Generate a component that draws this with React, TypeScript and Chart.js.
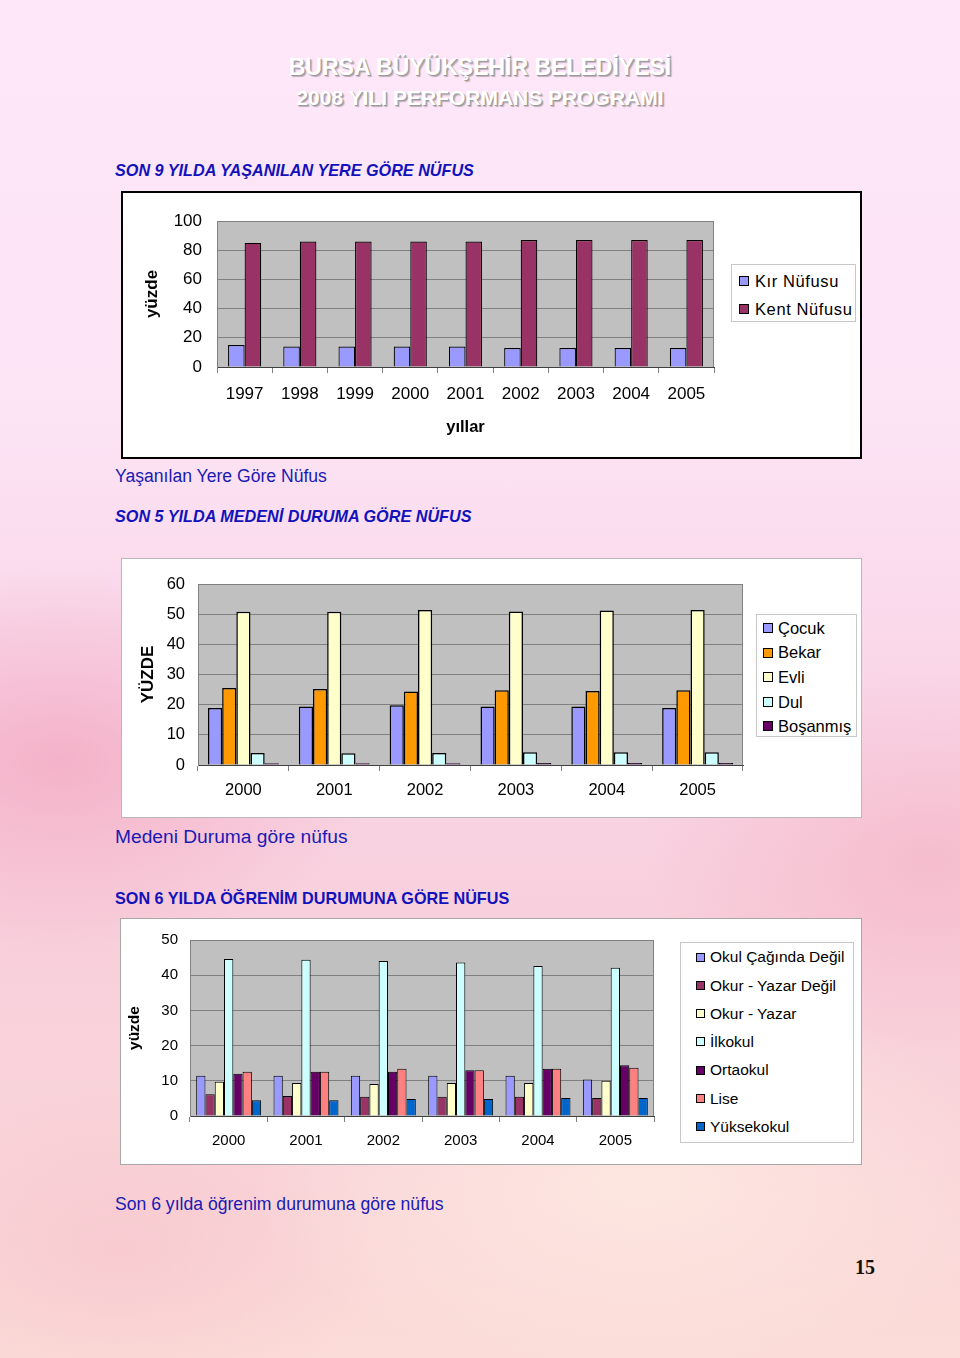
import React, { useEffect, useRef } from 'react';
import { Chart, registerables } from 'chart.js';

Chart.register(...registerables);

const FONT = "'Liberation Sans', Arial, Helvetica, sans-serif";

// ---- Chart 1: Son 9 yılda yaşanılan yere göre nüfus ----
const years1 = ['1997', '1998', '1999', '2000', '2001', '2002', '2003', '2004', '2005'];
const kirNufusu = [15, 14, 14, 14, 14, 13, 13, 13, 13];
const kentNufusu = [85, 86, 86, 86, 86, 87, 87, 87, 87];
const series1Labels = ['Kır Nüfusu', 'Kent Nüfusu'];
const series1Colors = ['#9999FF', '#993366'];

// ---- Chart 2: Son 5 yılda medeni duruma göre nüfus ----
const years2 = ['2000', '2001', '2002', '2003', '2004', '2005'];
const cocuk = [18.9, 19.4, 19.8, 19.4, 19.4, 18.9];
const bekar = [25.5, 25.2, 24.4, 24.8, 24.5, 24.8];
const evli = [50.8, 50.8, 51.4, 50.9, 51.2, 51.4];
const dul = [4.0, 3.9, 4.0, 4.2, 4.2, 4.2];
const bosanmis = [0.6, 0.6, 0.6, 0.7, 0.7, 0.7];
const series2Labels = ['Çocuk', 'Bekar', 'Evli', 'Dul', 'Boşanmış'];
const series2Colors = ['#9999FF', '#FF9900', '#FFFFCC', '#CCFFFF', '#660066'];

// ---- Chart 3: Son 6 yılda öğrenim durumuna göre nüfus ----
const years3 = ['2000', '2001', '2002', '2003', '2004', '2005'];
const okulCagindaDegil = [11.4, 11.4, 11.4, 11.4, 11.4, 10.4];
const okurYazarDegil = [6.2, 5.7, 5.5, 5.5, 5.5, 5.1];
const okurYazar = [9.7, 9.4, 9.1, 9.4, 9.4, 10.0];
const ilkokul = [44.6, 44.4, 44.0, 43.6, 42.6, 42.1];
const ortaokul = [12.0, 12.6, 12.6, 13.0, 13.4, 14.4];
const lise = [12.6, 12.6, 13.4, 13.0, 13.4, 13.7];
const yuksekokul = [4.5, 4.5, 4.8, 4.8, 5.1, 5.1];
const series3Labels = ['Okul Çağında Değil', 'Okur - Yazar Değil', 'Okur - Yazar', 'İlkokul', 'Ortaokul', 'Lise', 'Yüksekokul'];
const series3Colors = ['#9999FF', '#993366', '#FFFFCC', '#CCFFFF', '#660066', '#FF8080', '#0066CC'];

const plotAreaPlugin = {
  id: 'plotArea',
  beforeDraw(chart: any) {
    const { ctx, chartArea: a } = chart;
    ctx.save();
    ctx.fillStyle = '#c0c0c0';
    ctx.fillRect(a.left, a.top, a.right - a.left, a.bottom - a.top);
    ctx.restore();
  },
  beforeDatasetsDraw(chart: any) {
    const { ctx, chartArea: a } = chart;
    ctx.save();
    ctx.strokeStyle = '#808080';
    ctx.lineWidth = 1;
    ctx.beginPath();
    ctx.moveTo(a.left, a.top + 0.5);
    ctx.lineTo(a.right - 0.5, a.top + 0.5);
    ctx.lineTo(a.right - 0.5, a.bottom);
    ctx.stroke();
    ctx.restore();
  },
};

type DS = { label: string; data: number[]; color: string };
type Cfg = {
  width: number;
  height: number;
  labels: string[];
  datasets: DS[];
  yMax: number;
  yStep: number;
  padTop: number;
  padRight: number;
  yWidth: number;
  xHeight: number;
  yTickPad: number;
  xTickPad: number;
  tickFont: number;
  yTitle: string;
  yTitleFont: number;
  yTitlePad: number;
  xTitle?: string;
  xTitleFont?: number;
  xTitlePad?: number;
  catPct: number;
  borderWidth: number;
};

function BarChart({ cfg }: { cfg: Cfg }) {
  const ref = useRef<HTMLCanvasElement | null>(null);
  useEffect(() => {
    if (!ref.current) return;
    const chart = new Chart(ref.current, {
      type: 'bar',
      data: {
        labels: cfg.labels,
        datasets: cfg.datasets.map((d) => ({
          label: d.label,
          data: d.data,
          backgroundColor: d.color,
          borderColor: '#000',
          borderWidth: cfg.borderWidth,
          categoryPercentage: cfg.catPct,
          barPercentage: 1,
        })),
      },
      options: {
        responsive: false,
        animation: false,
        devicePixelRatio: 1,
        layout: { padding: { top: cfg.padTop, right: cfg.padRight, bottom: 0, left: 0 } },
        plugins: { legend: { display: false }, tooltip: { enabled: false } },
        scales: {
          x: {
            grid: { offset: true, drawOnChartArea: false, drawTicks: true, tickLength: 6, color: '#808080' },
            border: { color: '#404040' },
            ticks: {
              color: '#000',
              font: { family: FONT, size: cfg.tickFont },
              padding: cfg.xTickPad,
              maxRotation: 0,
              autoSkip: false,
            },
            title: cfg.xTitle
              ? {
                  display: true,
                  text: cfg.xTitle,
                  color: '#000',
                  font: { family: FONT, size: cfg.xTitleFont, weight: 'bold' },
                  padding: { top: 0, bottom: cfg.xTitlePad },
                }
              : { display: false },
            afterFit: (s: any) => {
              s.height = cfg.xHeight;
            },
          },
          y: {
            min: 0,
            max: cfg.yMax,
            ticks: {
              stepSize: cfg.yStep,
              color: '#000',
              font: { family: FONT, size: cfg.tickFont },
              padding: cfg.yTickPad,
            },
            grid: { color: '#808080', drawTicks: false },
            border: { color: '#808080' },
            title: {
              display: true,
              text: cfg.yTitle,
              color: '#000',
              font: { family: FONT, size: cfg.yTitleFont, weight: 'bold' },
              padding: { top: cfg.yTitlePad, bottom: 0 },
            },
            afterFit: (s: any) => {
              s.width = cfg.yWidth;
            },
          },
        },
      } as any,
      plugins: [plotAreaPlugin],
    });
    return () => chart.destroy();
  }, []);
  return (
    <canvas
      ref={ref}
      width={cfg.width}
      height={cfg.height}
      style={{ position: 'absolute', left: 0, top: 0, width: cfg.width, height: cfg.height }}
    />
  );
}

type LegendProps = {
  labels: string[];
  colors: string[];
  left: number;
  top: number;
  width: number;
  height: number;
  firstRow: number;
  rowStep: number;
  markerLeft: number;
  marker: number;
  textLeft: number;
  font: number;
  spacing?: number;
};

function Legend(p: LegendProps) {
  return (
    <div
      style={{
        position: 'absolute',
        left: p.left,
        top: p.top,
        width: p.width,
        height: p.height,
        boxSizing: 'border-box',
        border: '1px solid #c8c8c8',
        background: '#fff',
      }}
    >
      {p.labels.map((l, i) => {
        const cy = p.firstRow + i * p.rowStep;
        return (
          <React.Fragment key={l}>
            <div
              style={{
                position: 'absolute',
                left: p.markerLeft,
                top: cy - p.marker / 2,
                width: p.marker,
                height: p.marker,
                boxSizing: 'border-box',
                border: '1px solid #000',
                background: p.colors[i],
              }}
            />
            <div
              style={{
                position: 'absolute',
                left: p.textLeft,
                top: cy - 0.5 * p.font,
                fontFamily: FONT,
                fontSize: p.font,
                lineHeight: p.font + 'px',
                whiteSpace: 'nowrap',
                letterSpacing: p.spacing || 0,
                color: '#000',
              }}
            >
              {l}
            </div>
          </React.Fragment>
        );
      })}
    </div>
  );
}

function Text({
  text,
  x,
  cy,
  size,
  bold,
  italic,
  color,
  family,
}: {
  text: string;
  x: number;
  cy: number;
  size: number;
  bold?: boolean;
  italic?: boolean;
  color?: string;
  family?: string;
}) {
  return (
    <div
      style={{
        position: 'absolute',
        left: x,
        top: cy - 0.49 * size,
        fontFamily: family || FONT,
        fontSize: size,
        lineHeight: size + 'px',
        fontWeight: bold ? 'bold' : 'normal',
        fontStyle: italic ? 'italic' : 'normal',
        color: color || '#1a1ab4',
        whiteSpace: 'nowrap',
      }}
    >
      {text}
    </div>
  );
}

const chart1: Cfg = {
  width: 737,
  height: 264,
  labels: years1,
  datasets: [
    { label: series1Labels[0], data: kirNufusu, color: series1Colors[0] },
    { label: series1Labels[1], data: kentNufusu, color: series1Colors[1] },
  ],
  yMax: 100,
  yStep: 20,
  padTop: 28,
  padRight: 146,
  yWidth: 94,
  xHeight: 90,
  yTickPad: 15,
  xTickPad: 11,
  tickFont: 17,
  yTitle: 'yüzde',
  yTitleFont: 17,
  yTitlePad: 19,
  xTitle: 'yıllar',
  xTitleFont: 16.5,
  xTitlePad: 20,
  catPct: 0.6,
  borderWidth: 1.2,
};

const chart2: Cfg = {
  width: 739,
  height: 258,
  labels: years2,
  datasets: [
    { label: series2Labels[0], data: cocuk, color: series2Colors[0] },
    { label: series2Labels[1], data: bekar, color: series2Colors[1] },
    { label: series2Labels[2], data: evli, color: series2Colors[2] },
    { label: series2Labels[3], data: dul, color: series2Colors[3] },
    { label: series2Labels[4], data: bosanmis, color: series2Colors[4] },
  ],
  yMax: 60,
  yStep: 10,
  padTop: 25,
  padRight: 118,
  yWidth: 76,
  xHeight: 52,
  yTickPad: 13,
  xTickPad: 10,
  tickFont: 16.5,
  yTitle: 'YÜZDE',
  yTitleFont: 17,
  yTitlePad: 16,
  catPct: 0.78,
  borderWidth: 1.5,
};

const chart3: Cfg = {
  width: 740,
  height: 245,
  labels: years3,
  datasets: [
    { label: series3Labels[0], data: okulCagindaDegil, color: series3Colors[0] },
    { label: series3Labels[1], data: okurYazarDegil, color: series3Colors[1] },
    { label: series3Labels[2], data: okurYazar, color: series3Colors[2] },
    { label: series3Labels[3], data: ilkokul, color: series3Colors[3] },
    { label: series3Labels[4], data: ortaokul, color: series3Colors[4] },
    { label: series3Labels[5], data: lise, color: series3Colors[5] },
    { label: series3Labels[6], data: yuksekokul, color: series3Colors[6] },
  ],
  yMax: 50,
  yStep: 10,
  padTop: 15,
  padRight: 207,
  yWidth: 69,
  xHeight: 48,
  yTickPad: 12,
  xTickPad: 10,
  tickFont: 15,
  yTitle: 'yüzde',
  yTitleFont: 15.5,
  yTitlePad: 4,
  catPct: 0.84,
  borderWidth: 1,
};

const pageBg = [
  'radial-gradient(ellipse 420px 260px at 60px 760px, rgba(240,150,178,0.55), rgba(240,150,178,0) 75%)',
  'radial-gradient(ellipse 380px 260px at 930px 860px, rgba(242,165,185,0.45), rgba(242,165,185,0) 75%)',
  'radial-gradient(ellipse 520px 260px at 640px 1180px, rgba(255,238,228,0.7), rgba(255,238,228,0) 75%)',
  'radial-gradient(ellipse 360px 220px at 120px 1250px, rgba(246,190,200,0.5), rgba(246,190,200,0) 75%)',
  'linear-gradient(to bottom, #fde7f8 0%, #fce4f5 30%, #f9d6e8 50%, #f8cfdc 68%, #f9d4d9 85%, #fbdcd8 100%)',
].join(', ');

export default function App() {
  return (
    <div
      style={{
        position: 'absolute',
        left: 0,
        top: 0,
        width: 960,
        height: 1358,
        overflow: 'hidden',
        background: pageBg,
      }}
    >
      {/* Header */}
      <div
        style={{
          position: 'absolute',
          left: 0,
          width: 960,
          top: 56,
          textAlign: 'center',
          fontFamily: FONT,
          fontWeight: 'bold',
          fontSize: 23,
          lineHeight: '23px',
          color: '#ffffff',
          textShadow: '1px 1px 0 #9a9a9a, 2px 2px 1px rgba(0,0,0,0.25)',
          whiteSpace: 'nowrap',
        }}
      >
        BURSA BÜYÜKŞEHİR BELEDİYESİ
      </div>
      <div
        style={{
          position: 'absolute',
          left: 0,
          width: 960,
          top: 87,
          textAlign: 'center',
          fontFamily: FONT,
          fontWeight: 'bold',
          fontSize: 21,
          lineHeight: '21px',
          color: '#ffffff',
          textShadow: '1px 1px 0 #9a9a9a, 2px 2px 1px rgba(0,0,0,0.25)',
          whiteSpace: 'nowrap',
        }}
      >
        2008 YILI PERFORMANS PROGRAMI
      </div>

      <Text text="SON 9 YILDA YAŞANILAN YERE GÖRE NÜFUS" x={115} cy={170} size={16.2} bold italic color="#1212bc" />

      {/* Chart 1 box */}
      <div
        style={{
          position: 'absolute',
          left: 121,
          top: 191,
          width: 741,
          height: 268,
          boxSizing: 'border-box',
          border: '2px solid #000',
          background: '#fff',
        }}
      >
        <BarChart cfg={chart1} />
      </div>
      <Legend
        labels={series1Labels}
        colors={series1Colors}
        left={731}
        top={264}
        width={125}
        height={58}
        firstRow={16}
        rowStep={28}
        markerLeft={7}
        marker={10}
        textLeft={23}
        font={16.5}
        spacing={0.6}
      />

      <Text text="Yaşanılan Yere Göre Nüfus" x={115} cy={477} size={17.6} color="#1a1ab4" />
      <Text text="SON 5 YILDA MEDENİ DURUMA GÖRE NÜFUS" x={115} cy={516} size={16.2} bold italic color="#1212bc" />

      {/* Chart 2 box */}
      <div
        style={{
          position: 'absolute',
          left: 121,
          top: 558,
          width: 741,
          height: 260,
          boxSizing: 'border-box',
          border: '1px solid #b8b8b8',
          background: '#fff',
        }}
      >
        <BarChart cfg={chart2} />
      </div>
      <Legend
        labels={series2Labels}
        colors={series2Colors}
        left={756}
        top={614}
        width={101}
        height={123}
        firstRow={13}
        rowStep={24.6}
        markerLeft={6}
        marker={10}
        textLeft={21}
        font={16.5}
      />

      <Text text="Medeni Duruma göre nüfus" x={115} cy={836} size={19.2} color="#1a1ab4" />
      <Text text="SON 6 YILDA ÖĞRENİM DURUMUNA GÖRE NÜFUS" x={115} cy={898} size={16.2} bold color="#1212bc" />

      {/* Chart 3 box */}
      <div
        style={{
          position: 'absolute',
          left: 120,
          top: 918,
          width: 742,
          height: 247,
          boxSizing: 'border-box',
          border: '1px solid #a8a8a8',
          background: '#fff',
        }}
      >
        <BarChart cfg={chart3} />
      </div>
      <Legend
        labels={series3Labels}
        colors={series3Colors}
        left={680}
        top={942}
        width={174}
        height={201}
        firstRow={14}
        rowStep={28.3}
        markerLeft={15}
        marker={9}
        textLeft={29}
        font={15.5}
      />

      <Text text="Son 6 yılda öğrenim durumuna göre nüfus" x={115} cy={1205} size={17.6} color="#1a1ab4" />

      <Text
        text="15"
        x={855}
        cy={1267}
        size={20}
        bold
        color="#111"
        family="'Liberation Serif', 'Times New Roman', serif"
      />
    </div>
  );
}
